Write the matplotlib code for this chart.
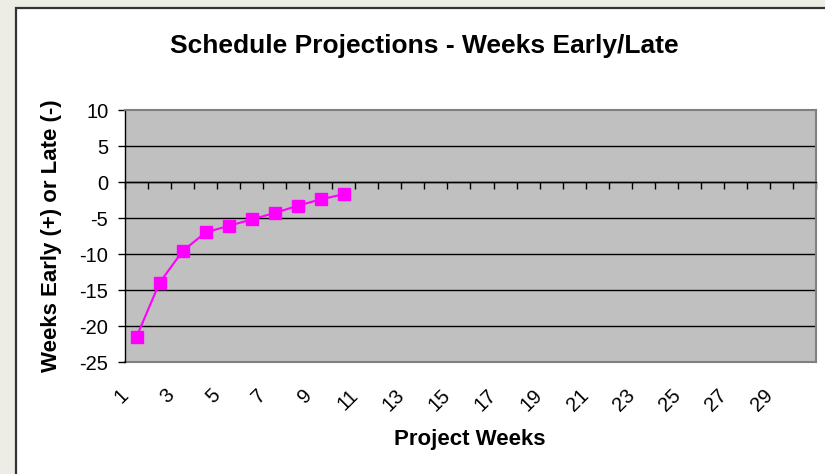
import matplotlib.pyplot as plt
import matplotlib.transforms as mtransforms
from matplotlib.patches import Rectangle

plt.rcParams['font.family'] = ['Liberation Sans', 'DejaVu Sans']

# data
weeks = [1, 2, 3, 4, 5, 6, 7, 8, 9, 10]
early_late = [-21.5, -14.0, -9.6, -7.0, -6.1, -5.2, -4.3, -3.3, -2.4, -1.7]
n_weeks = 30
week_labels = list(range(1, n_weeks, 2))
y_ticks = [-25, -20, -15, -10, -5, 0, 5, 10]

fig = plt.figure(figsize=(8.25, 4.74), dpi=100, facecolor='#EDEDE6')

# white chart panel with dark frame
panel = Rectangle((16 / 825, -0.05), 1.1, 466 / 474 + 0.05, transform=fig.transFigure,
                  facecolor='white', edgecolor='#333333', linewidth=1.6, zorder=-10)
fig.add_artist(panel)

ax = fig.add_axes([125 / 825, 1 - 362 / 474, 691 / 825, 252 / 474])
ax.set_facecolor('#C0C0C0')

ax.plot(weeks, early_late, color='#FF00FF', marker='s', markersize=8,
        linewidth=1.5, clip_on=False, zorder=5)

ax.set_xlim(0.5, n_weeks + 0.5)
ax.set_ylim(y_ticks[0], y_ticks[-1])
ax.set_yticks(y_ticks)
ax.set_yticklabels([str(v) for v in y_ticks], fontsize=14.5)
ax.tick_params(axis='y', direction='out', length=5, width=1, pad=7, color='black')

ax.yaxis.grid(True, color='black', linewidth=1)
ax.set_axisbelow(True)
glines = ax.get_ygridlines()
glines[0].set_visible(False)
glines[-1].set_visible(False)

# category boundaries as ticks on the zero line
ax.set_xticks([i + 0.5 for i in range(0, n_weeks + 1)])
ax.tick_params(axis='x', direction='out', length=5, width=1, labelbottom=False, color='black')
ax.spines['bottom'].set_position(('data', 0))
ax.spines['bottom'].set_color('black')
ax.spines['bottom'].set_linewidth(1)
ax.spines['left'].set_color('black')
ax.spines['left'].set_linewidth(1)
for s in ['top', 'right']:
    ax.spines[s].set_color('#808080')
    ax.spines[s].set_linewidth(1.5)

# category labels at the bottom of the plot area
sec = ax.secondary_xaxis('bottom')
sec.set_xticks(week_labels)
sec.set_xticklabels([str(w) for w in week_labels], fontsize=14.5, rotation=45,
                    ha='right', va='top', rotation_mode='anchor')
sec.tick_params(length=0, pad=17)
sec.spines['bottom'].set_color('#808080')
sec.spines['bottom'].set_linewidth(1.5)
shift = mtransforms.ScaledTranslation(-0.18, 0, fig.dpi_scale_trans)
for lab in sec.get_xticklabels():
    lab.set_transform(lab.get_transform() + shift)

fig.text(424 / 825, 1 - 46 / 474, 'Schedule Projections - Weeks Early/Late',
         ha='center', va='center', fontsize=19, fontweight='bold')
fig.text(470 / 825, 1 - 439 / 474, 'Project Weeks',
         ha='center', va='center', fontsize=16, fontweight='bold')
fig.text(52 / 825, 1 - 236 / 474, 'Weeks Early (+) or Late (-)', rotation=90,
         ha='center', va='center', fontsize=16, fontweight='bold')

fig.savefig('out.png', dpi=100, facecolor=fig.get_facecolor())
